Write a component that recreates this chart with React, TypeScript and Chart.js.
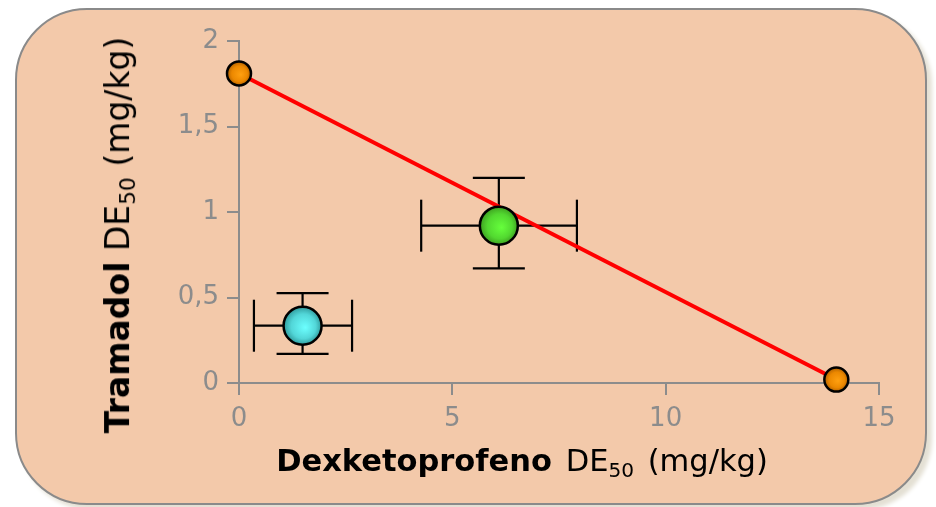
import React, { useEffect, useRef } from "react";
import { Chart, registerables } from "chart.js";

Chart.register(...registerables);

// ---- data ----
const xTickValues = [0, 5, 10, 15];
const yTickValues = [0, 0.5, 1, 1.5, 2];

// additive (isobole) line between the two single-drug ED50 values
const isoboleX = [0, 14];
const isoboleY = [1.81, 0.02];

// single drugs (orange)
const singleX = [0, 14];
const singleY = [1.81, 0.02];

// theoretical additive point (green)
const theoX = [6.09];
const theoY = [0.92];
const theoXLow = [4.27];
const theoXHigh = [7.92];
const theoYLow = [0.67];
const theoYHigh = [1.2];

// experimental point (cyan)
const expX = [1.49];
const expY = [0.335];
const expXLow = [0.35];
const expXHigh = [2.65];
const expYLow = [0.17];
const expYHigh = [0.526];

const GRAY = "#8c8c8c";
const FONT = "'DejaVu Sans', Verdana, sans-serif";

function toPoints(xs: number[], ys: number[]) {
  return xs.map((x, i) => ({ x, y: ys[i] }));
}

function ballFill(colors: [string, string, string], radius: number) {
  return (ctx: any) => {
    const chart = ctx.chart;
    const xs = chart.scales?.x;
    const ys = chart.scales?.y;
    if (!ctx.raw || !xs || !ys) return colors[1];
    const px = xs.getPixelForValue(ctx.raw.x);
    const py = ys.getPixelForValue(ctx.raw.y);
    if (!isFinite(px) || !isFinite(py)) return colors[1];
    const g = chart.ctx.createRadialGradient(
      px + radius * 0.15,
      py + radius * 0.1,
      0,
      px,
      py,
      radius
    );
    g.addColorStop(0, colors[0]);
    g.addColorStop(0.65, colors[1]);
    g.addColorStop(1, colors[2]);
    return g;
  };
}

const errorSets = [
  { x: theoX, y: theoY, xl: theoXLow, xh: theoXHigh, yl: theoYLow, yh: theoYHigh },
  { x: expX, y: expY, xl: expXLow, xh: expXHigh, yl: expYLow, yh: expYHigh },
];

const errorBarPlugin = {
  id: "errorBars",
  beforeDatasetsDraw(chart: any) {
    const { ctx } = chart;
    const xs = chart.scales.x;
    const ys = chart.scales.y;
    const cap = 26;
    ctx.save();
    ctx.strokeStyle = "#000";
    ctx.lineWidth = 2.2;
    const seg = (a: number, b: number, c: number, d: number) => {
      ctx.beginPath();
      ctx.moveTo(a, b);
      ctx.lineTo(c, d);
      ctx.stroke();
    };
    errorSets.forEach((s) => {
      s.x.forEach((xv, i) => {
        const cx = xs.getPixelForValue(xv);
        const cy = ys.getPixelForValue(s.y[i]);
        const x0 = xs.getPixelForValue(s.xl[i]);
        const x1 = xs.getPixelForValue(s.xh[i]);
        const y0 = ys.getPixelForValue(s.yl[i]);
        const y1 = ys.getPixelForValue(s.yh[i]);
        seg(x0, cy, x1, cy);
        seg(x0, cy - cap, x0, cy + cap);
        seg(x1, cy - cap, x1, cy + cap);
        seg(cx, y0, cx, y1);
        seg(cx - cap, y0, cx + cap, y0);
        seg(cx - cap, y1, cx + cap, y1);
      });
    });
    ctx.restore();
  },
};

export default function App() {
  const canvasRef = useRef<HTMLCanvasElement>(null);

  useEffect(() => {
    if (!canvasRef.current) return;
    const chart = new Chart(canvasRef.current, {
      type: "scatter",
      data: {
        datasets: [
          {
            type: "line",
            data: toPoints(isoboleX, isoboleY),
            borderColor: "#ff0000",
            borderWidth: 4,
            pointRadius: 0,
            fill: false,
            order: 3,
            clip: false,
          } as any,
          {
            data: toPoints(singleX, singleY),
            pointRadius: 12,
            pointBackgroundColor: ballFill(["#ffa010", "#ec8800", "#b06000"], 12),
            pointBorderColor: "#000",
            pointBorderWidth: 2.5,
            order: 1,
            clip: false,
          } as any,
          {
            data: toPoints(theoX, theoY),
            pointRadius: 19,
            pointBackgroundColor: ballFill(["#66ff3c", "#52d830", "#3ea020"], 19),
            pointBorderColor: "#000",
            pointBorderWidth: 2.5,
            order: 1,
            clip: false,
          } as any,
          {
            data: toPoints(expX, expY),
            pointRadius: 19,
            pointBackgroundColor: ballFill(["#6cffff", "#52d6d8", "#2f9a9c"], 19),
            pointBorderColor: "#000",
            pointBorderWidth: 2.5,
            order: 1,
            clip: false,
          } as any,
        ],
      },
      options: {
        responsive: false,
        animation: false,
        events: [],
        layout: { padding: { top: 41, right: 57, left: 0, bottom: 0 } },
        plugins: {
          legend: { display: false },
          tooltip: { enabled: false },
          title: { display: false },
        },
        scales: {
          x: {
            type: "linear",
            min: 0,
            max: 15,
            afterBuildTicks: (s: any) => {
              s.ticks = xTickValues.map((v) => ({ value: v }));
            },
            ticks: {
              color: GRAY,
              font: { family: FONT, size: 26 },
              padding: 9,
              maxRotation: 0,
            },
            grid: {
              drawOnChartArea: false,
              drawTicks: true,
              tickLength: 12,
              color: GRAY,
              lineWidth: 2,
            },
            border: { display: true, color: GRAY, width: 2 },
            afterFit: (s: any) => {
              s.height = 124;
            },
          },
          y: {
            type: "linear",
            min: 0,
            max: 2,
            afterBuildTicks: (s: any) => {
              s.ticks = yTickValues.map((v) => ({ value: v }));
            },
            ticks: {
              color: GRAY,
              font: { family: FONT, size: 26 },
              padding: 8,
              callback: (v: any) => String(v).replace(".", ","),
            },
            grid: {
              drawOnChartArea: false,
              drawTicks: true,
              tickLength: 12,
              color: GRAY,
              lineWidth: 2,
            },
            border: { display: true, color: GRAY, width: 2 },
            afterFit: (s: any) => {
              s.width = 239;
            },
          },
        },
      } as any,
      plugins: [errorBarPlugin],
    });
    return () => chart.destroy();
  }, []);

  const sub = { fontSize: "0.66em", verticalAlign: "-0.28em" } as React.CSSProperties;

  return (
    <div
      style={{
        position: "absolute",
        left: 0,
        top: 0,
        width: 936,
        height: 507,
        overflow: "hidden",
        background: "#ffffff",
      }}
    >
      <div
        style={{
          position: "absolute",
          left: 15,
          top: 8,
          width: 912,
          height: 497,
          boxSizing: "border-box",
          border: "2px solid #8a8a8a",
          borderRadius: 72,
          background: "#f3c9aa",
          boxShadow: "5px 5px 4px #e4e0d4",
        }}
      />
      <canvas
        ref={canvasRef}
        width={936}
        height={507}
        style={{ position: "absolute", left: 0, top: 0, display: "block" }}
      />
      <div
        style={{
          position: "absolute",
          left: 522,
          top: 463,
          transform: "translate(-50%, -50%)",
          whiteSpace: "nowrap",
          fontFamily: FONT,
          fontSize: 30.5,
          wordSpacing: 4,
          lineHeight: 1,
          color: "#000",
        }}
      >
        <b>Dexketoprofeno</b> DE<span style={sub}>50</span> (mg/kg)
      </div>
      <div
        style={{
          position: "absolute",
          left: 120,
          top: 235,
          transform: "translate(-50%, -50%) rotate(-90deg)",
          whiteSpace: "nowrap",
          fontFamily: FONT,
          fontSize: 33,
          lineHeight: 1,
          color: "#000",
        }}
      >
        <b>Tramadol</b> DE<span style={sub}>50</span> (mg/kg)
      </div>
    </div>
  );
}
